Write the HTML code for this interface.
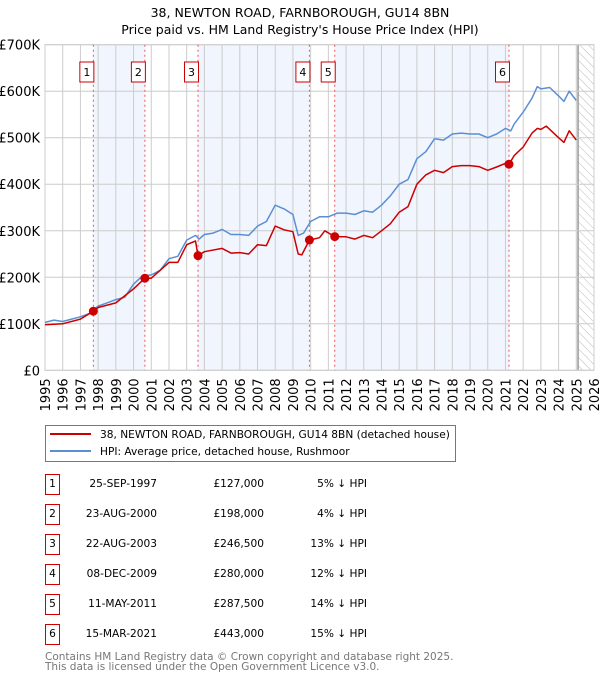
<!DOCTYPE html>
<html><head><meta charset="utf-8"><style>
body{margin:0;background:#fff;font-family:"Liberation Sans","DejaVu Sans",sans-serif;}
svg text{font-family:"DejaVu Sans","Liberation Sans",sans-serif;}
</style></head><body>
<svg id="c" width="600" height="680" xmlns="http://www.w3.org/2000/svg"></svg>
<script>
const hpiYears=[1995,1995.5,1996,1996.5,1997,1997.5,1998,1998.5,1999,1999.5,2000,2000.5,2001,2001.5,2002,2002.5,2003,2003.5,2003.7,2004,2004.5,2005,2005.5,2006,2006.5,2007,2007.5,2008,2008.5,2009,2009.3,2009.6,2010,2010.5,2011,2011.5,2012,2012.5,2013,2013.5,2014,2014.5,2015,2015.5,2016,2016.5,2017,2017.5,2018,2018.5,2019,2019.5,2020,2020.5,2021,2021.3,2021.5,2022,2022.5,2022.8,2023,2023.5,2024,2024.3,2024.6,2025];
const hpiValues=[103,108,105,110,115,122,138,145,152,157,185,203,205,215,240,245,280,290,282,292,295,303,292,292,290,310,320,355,347,335,290,295,320,330,330,338,338,335,343,340,355,375,400,410,455,470,498,495,508,510,508,508,500,508,520,515,530,555,585,610,605,608,590,578,600,580];
const priceYears=[1995,1996,1997,1997.73,1998,1999,2000,2000.64,2001,2002,2002.5,2003,2003.5,2003.64,2004,2005,2005.5,2006,2006.5,2007,2007.5,2008,2008.5,2009,2009.3,2009.5,2009.93,2010.5,2010.8,2011.36,2012,2012.5,2013,2013.5,2014,2014.5,2015,2015.5,2016,2016.5,2017,2017.5,2018,2018.5,2019,2019.5,2020,2020.5,2021,2021.2,2021.5,2022,2022.5,2022.8,2023,2023.3,2024,2024.3,2024.6,2025];
const priceValues=[98,100,110,127,135,145,175,198,198,232,232,270,278,246.5,255,262,252,253,250,270,268,310,302,298,250,248,280,285,300,287.5,287,282,290,285,300,315,340,352,400,420,430,425,438,440,440,438,430,437,445,443,462,480,510,520,518,525,500,490,515,495];
const saleLabels=["1","2","3","4","5","6"];
const saleYears=[1997.73,2000.64,2003.64,2009.93,2011.36,2021.2];
const saleValues=[127,198,246.5,280,287.5,443];
const saleDates=["25-SEP-1997","23-AUG-2000","22-AUG-2003","08-DEC-2009","11-MAY-2011","15-MAR-2021"];
const salePrices=["£127,000","£198,000","£246,500","£280,000","£287,500","£443,000"];
const saleHpi=["5% ↓ HPI","4% ↓ HPI","13% ↓ HPI","12% ↓ HPI","14% ↓ HPI","15% ↓ HPI"];
const yTicks=[0,100,200,300,400,500,600,700];
const yTickLabels=["£0","£100K","£200K","£300K","£400K","£500K","£600K","£700K"];
const xTicks=[1995,1996,1997,1998,1999,2000,2001,2002,2003,2004,2005,2006,2007,2008,2009,2010,2011,2012,2013,2014,2015,2016,2017,2018,2019,2020,2021,2022,2023,2024,2025,2026];

const L=45,R=594,T=44.7,B=370.3;
const X=y=>L+(y-1995)*(R-L)/31;
const Y=v=>B-v*(B-T)/700;
const svg=document.getElementById('c');
const NS='http://www.w3.org/2000/svg';
function mk(tag,at,txt){const e=document.createElementNS(NS,tag);for(const k in at)e.setAttribute(k,at[k]);if(txt!==undefined)e.textContent=txt;svg.appendChild(e);return e;}

let t=mk('text',{x:300,y:17,'text-anchor':'middle','font-size':12.5,fill:'#000'},'38, NEWTON ROAD, FARNBOROUGH, GU14 8BN');


t=mk('text',{x:300,y:34,'text-anchor':'middle','font-size':12.5,fill:'#000'},"Price paid vs. HM Land Registry's House Price Index (HPI)");



for(let i=0;i<saleYears.length;i+=2){
  const x1=X(saleYears[i]), x2=i+1<saleYears.length?X(saleYears[i+1]):R;
  const r=mk('rect',{x:x1,y:T,width:x2-x1,height:B-T,fill:'#eef3fc',opacity:0.8});
  
  
}
const defs=mk('defs',{});
defs.innerHTML='<pattern id="h" width="6" height="6" patternUnits="userSpaceOnUse" patternTransform="rotate(-45)"><line x1="0" y1="0" x2="0" y2="6" stroke="#bbb" stroke-width="1"/></pattern>';
const hx=X(2025.1);
let hr=mk('rect',{x:hx,y:T,width:R-hx,height:B-T,fill:'url(#h)'});


mk('line',{x1:hx,y1:T,x2:hx,y2:B,stroke:'#999','stroke-width':1.5});

yTicks.forEach((v,i)=>{
  const g=mk('line',{x1:L,x2:R,y1:Y(v),y2:Y(v),stroke:'#ccc','stroke-width':1});
  
  
  const tl=mk('text',{x:L-5,y:Y(v)+5,'text-anchor':'end','font-size':13,fill:'#000'},yTickLabels[i]);
  
  
});
xTicks.forEach(y=>{
  const g=mk('line',{x1:X(y),x2:X(y),y1:T,y2:B,stroke:'#ccc','stroke-width':1});
  
  
  const tl=mk('text',{x:0,y:0,'text-anchor':'end','font-size':13,fill:'#000',transform:`translate(${X(y)+5},${B+8}) rotate(-90)`},String(y));
  
  
});
mk('rect',{x:L,y:T,width:R-L,height:B-T,fill:'none',stroke:'#ccc'});

saleYears.forEach((y,i)=>{
  const l=mk('line',{x1:X(y),x2:X(y),y1:T,y2:B,stroke:'#e55','stroke-width':1,'stroke-dasharray':'2,3'});
  
  
  const bx=mk('rect',{x:X(y)-13.5,y:62,width:14,height:20,fill:'#fff',stroke:'#c00','stroke-width':1});
  
  
  const bt=mk('text',{x:X(y)-6.5,y:76,'text-anchor':'middle','font-size':11,fill:'#000'},saleLabels[i]);
  
  
});

function path(xs,vs,color,name){
  const d=xs.map((y,i)=>(i?'L':'M')+X(y).toFixed(1)+','+Y(vs[i]).toFixed(1)).join('');
  const p=mk('path',{d:d,fill:'none',stroke:color,'stroke-width':1.5,'stroke-linejoin':'round'});
  
  
}
path(hpiYears,hpiValues,'#5b8fd4','hpi-line');
path(priceYears,priceValues,'#cc0000','price-line');
saleYears.forEach((y,i)=>{
  const c=mk('circle',{cx:X(y),cy:Y(saleValues[i]),r:4.5,fill:'#cc0000'});
  
  
});

let lg=mk('rect',{x:45.5,y:425.5,width:410,height:36,fill:'#fff',stroke:'#777'});


mk('line',{x1:50,x2:91,y1:434,y2:434,stroke:'#cc0000','stroke-width':2});
t=mk('text',{x:100,y:438,'font-size':10.6,fill:'#000'},'38, NEWTON ROAD, FARNBOROUGH, GU14 8BN (detached house)');


mk('line',{x1:50,x2:91,y1:451,y2:451,stroke:'#5b8fd4','stroke-width':2});
t=mk('text',{x:100,y:455,'font-size':10.6,fill:'#000'},'HPI: Average price, detached house, Rushmoor');



saleLabels.forEach((lab,i)=>{
  const y=487+i*30;
  const b=mk('rect',{x:45.5,y:y-12.5,width:14,height:20,fill:'#fff',stroke:'#c00'});
  
  
  let tx=mk('text',{x:52.5,y:y,'text-anchor':'middle','font-size':10.6,fill:'#000'},lab);
  
  
  tx=mk('text',{x:157,y:y,'text-anchor':'end','font-size':10.6,fill:'#000'},saleDates[i]);
  
  
  tx=mk('text',{x:264,y:y,'text-anchor':'end','font-size':10.6,fill:'#000'},salePrices[i]);
  
  
  tx=mk('text',{x:367,y:y,'text-anchor':'end','font-size':10.6,fill:'#000'},saleHpi[i]);
  
  
});
t=mk('text',{x:45,y:660,'font-size':10.5,fill:'#777'},'Contains HM Land Registry data © Crown copyright and database right 2025.');


t=mk('text',{x:45,y:670,'font-size':10.5,fill:'#777'},'This data is licensed under the Open Government Licence v3.0.');


</script>
</body></html>
